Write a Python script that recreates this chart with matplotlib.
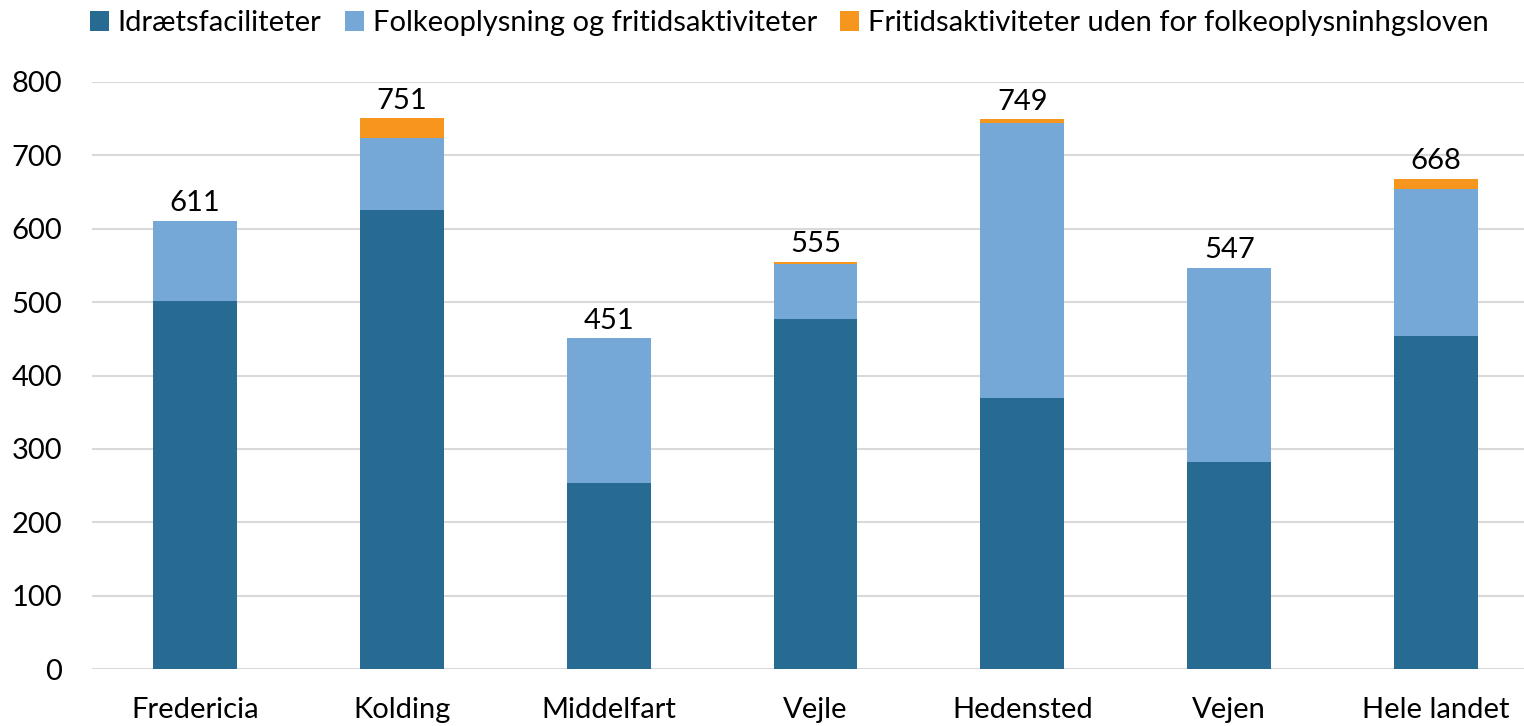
import matplotlib
matplotlib.use("Agg")
import matplotlib.pyplot as plt
import numpy as np

categories = ["Fredericia", "Kolding", "Middelfart", "Vejle", "Hedensted", "Vejen", "Hele landet"]
idraet = [501, 625, 253, 477, 369, 282, 454]
folkeoplysning = [110, 99, 198, 75, 375, 265, 200]
fritid_uden = [0, 27, 0, 3, 5, 0, 14]
totals = [611, 751, 451, 555, 749, 547, 668]
series_names = ["Idrætsfaciliteter", "Folkeoplysning og fritidsaktiviteter",
                "Fritidsaktiviteter uden for folkeoplysninhgsloven"]
colors = ["#276A92", "#75A8D6", "#F7961F"]

plt.rcParams['font.family'] = ['Lato', 'DejaVu Sans']

fig = plt.figure(figsize=(15.24, 7.26), dpi=100)
ax = fig.add_axes([91.5/1524, 57/726, 1448/1524, 587/726])

x = np.arange(len(categories))
w = 0.405
a = np.array(idraet); b = np.array(folkeoplysning); c = np.array(fritid_uden)
ax.bar(x, a, w, color=colors[0], label=series_names[0], zorder=3)
ax.bar(x, b, w, bottom=a, color=colors[1], label=series_names[1], zorder=3)
ax.bar(x, c, w, bottom=a + b, color=colors[2], label=series_names[2], zorder=3)

for xi, t in zip(x, totals):
    ax.text(xi, t + 6, str(t), ha='center', va='bottom', fontsize=21)

ax.set_xlim(-0.5, len(categories) - 0.5)
ax.set_ylim(0, 800)
ax.set_yticks(range(0, 801, 100))
ax.set_xticks(x)
ax.set_xticklabels(categories)
ax.tick_params(axis='both', length=0, labelsize=21)
ax.tick_params(axis='x', pad=20)
ax.tick_params(axis='y', pad=21)
ax.grid(axis='y', color='#D9D9D9', linewidth=1.5, zorder=0)
for s in ax.spines.values():
    s.set_visible(False)

fig.legend(loc='upper center', bbox_to_anchor=(0.518, 1.022), ncol=3, frameon=False,
           fontsize=21, handlelength=0.65, handleheight=0.65, handletextpad=0.3,
           columnspacing=0.8)

fig.savefig("out.png", dpi=100)
